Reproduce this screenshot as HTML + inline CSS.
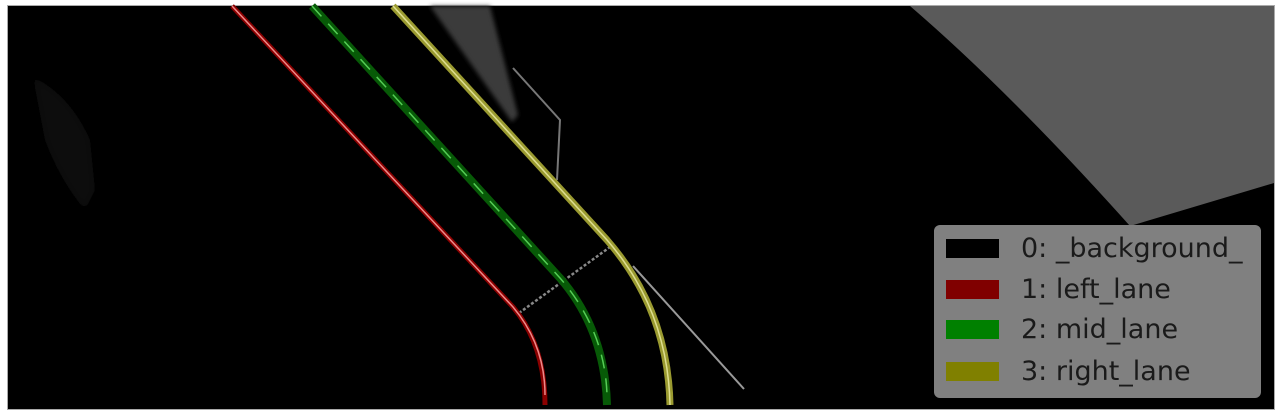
<!DOCTYPE html>
<html><head><meta charset="utf-8"><style>
html,body{margin:0;padding:0;background:#fff;width:1280px;height:417px;overflow:hidden}
#frame{position:absolute;left:8px;top:6px;width:1266px;height:403px;background:#000;outline:1px solid #aaa}
svg{position:absolute;left:0;top:0}
#legend{position:absolute;left:934px;top:225px;width:327px;height:173px;background:#808080;border-radius:6px;font-family:"DejaVu Sans","Liberation Sans",sans-serif;font-size:27px;color:#1a1a1a}
.row{position:absolute;left:12px;height:30px;display:flex;align-items:center;white-space:nowrap}
.sw{width:53px;height:19px;margin-right:22px}
</style></head><body>
<div id="frame"></div>
<svg width="1280" height="417">
<defs><filter id="bl"><feGaussianBlur stdDeviation="2"/></filter><filter id="bl2"><feGaussianBlur stdDeviation="4"/></filter></defs>
<path d="M910 6 L1274 6 L1274 183 L1130 226 Q1010 92 910 6 Z" fill="#5a5a5a"/>
<path d="M33 77 Q70 95 90 140 L95 190 L85 210 Q60 180 45 140 Z" fill="#0e0e0e" filter="url(#bl2)"/>
<path d="M430 6 L490 6 L518 115 L512 122 Z" fill="#3a3a3a" filter="url(#bl)"/>
<path d="M513 68 L560 120 L557 180" stroke="#777" stroke-width="2" fill="none"/>
<path d="M633 266 L744 389" stroke="#999" stroke-width="2" fill="none"/>
<path d="M519 313 L610 247" stroke="#888" stroke-width="2.5" stroke-dasharray="3,2" fill="none"/>
<path d="M232 6 L513 307 Q545 345 545 405" stroke="#8b0000" stroke-width="5" fill="none"/>
<path d="M232 6 L513 307 Q545 345 545 395" stroke="#e88" stroke-width="1.5" fill="none"/>
<path d="M312 6 L560 278 Q605 330 607 405" stroke="#075a07" stroke-width="8" fill="none"/>
<path d="M312 6 L560 278 Q605 330 607 395" stroke="#5c5" stroke-width="1.5" stroke-dasharray="14,10" fill="none"/>
<path d="M393 6 L607 240 Q668 310 670 405" stroke="#9a9a30" stroke-width="7" fill="none"/>
<path d="M393 6 L607 240 Q668 310 670 405" stroke="#dede90" stroke-width="1.5" fill="none"/>
</svg>
<div id="legend">
<div class="row" style="top:8px"><div class="sw" style="background:#000"></div>0: _background_</div>
<div class="row" style="top:49px"><div class="sw" style="background:#800000"></div>1: left_lane</div>
<div class="row" style="top:89px"><div class="sw" style="background:#008000"></div>2: mid_lane</div>
<div class="row" style="top:131px"><div class="sw" style="background:#808000"></div>3: right_lane</div>
</div>
</body></html>
